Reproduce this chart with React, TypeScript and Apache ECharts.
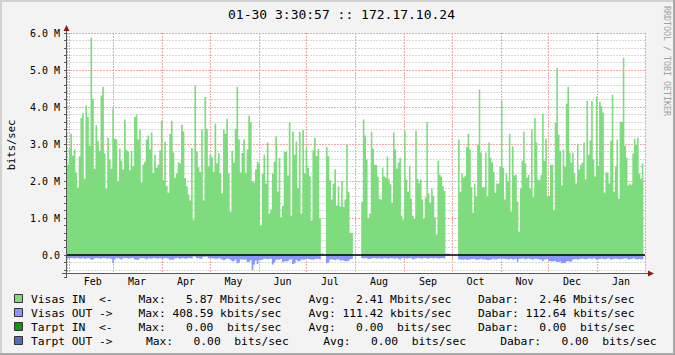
import { useEffect, useRef } from 'react';
import * as echarts from 'echarts';

// ---- data (Mbit/s) ----
const monthNames = ['Jan', 'Feb', 'Mar', 'Apr', 'May', 'Jun', 'Jul', 'Aug', 'Sep', 'Oct', 'Nov', 'Dec'];

// segment boundaries (local time)
const segmentBounds = [
  new Date(2009, 0, 30, 17, 30).getTime(),
  new Date(2009, 4, 4, 0, 0).getTime(),
  new Date(2009, 7, 3, 18, 0).getTime(),
  new Date(2009, 10, 2, 2, 0).getTime(),
  new Date(2010, 0, 30, 3, 30, 57).getTime(),
];

const inFebApr: (number | null)[] = [
  2.44, 2.87, 3.28, 2.68, 2.85, 2.23, 1.82, 2.66, 3.70, 3.84,
  2.06, 4.04, 3.73, 2.95, 5.87, 4.22, 2.33, 3.51, 3.09, 2.82,
  4.31, 4.55, 2.74, 1.80, 3.17, 2.58, 2.33, 3.95, 3.15, 3.12,
  1.99, 2.87, 2.55, 2.31, 3.66, 2.84, 2.79, 2.29, 2.82, 2.40,
  3.73, 3.79, 3.12, 3.39, 1.96, 2.44, 2.52, 3.12, 3.23, 2.85,
  3.31, 2.22, 2.71, 2.36, 2.44, 2.83, 3.63, 2.03, 3.06, 1.87,
  1.68, 3.27, 3.63, 2.77, 2.08, 2.20, 2.51, 2.47, 3.52, 3.34,
  2.08, 1.86, 1.64, 1.47, 2.89, 0.95, 4.58, 2.79, 2.37, 2.24,
  3.40, 1.47, 4.27, 3.41, 2.40, 2.71, 2.64, 2.24,
];
const inMayJul: (number | null)[] = [
  3.55, 2.47, 2.76, 2.20, 1.66, 3.39, 3.28, 3.68, 2.20, 1.17,
  2.82, 2.49, 3.41, 4.55, 3.12, 2.23, 2.76, 3.12, 2.22, 2.85,
  3.77, 3.59, 1.99, 1.95, 2.32, 2.52, 2.46, 0.80, 2.19, 2.71,
  1.93, 3.04, 1.12, 1.23, 2.20, 2.52, 3.20, 1.71, 2.62, 1.02,
  1.33, 2.79, 2.79, 2.15, 3.59, 1.06, 3.33, 2.71, 3.07, 1.81,
  3.33, 1.12, 3.38, 2.20, 2.93, 2.36, 2.13, 0.93, 2.83, 3.17,
  2.67, 2.87, 1.00, 0.04, 0.04, null, 2.92, 2.67, 2.02, 1.50,
  1.93, 2.32, 1.34, 1.86, 1.31, 2.00, 1.30, 1.50, 2.98, 1.70,
  0.60, 0.60, null, null, null, null,
];
const inAugOct: (number | null)[] = [
  null, 1.44, 3.66, 3.23, 2.58, 0.99, 1.12, 3.33, 2.87, 2.44,
  2.44, 2.12, 1.52, 1.49, 2.36, 2.12, 2.09, 2.66, 2.05, 1.91,
  1.41, 3.31, 2.85, 2.33, 2.49, 2.63, 1.06, 0.95, 3.36, 2.04,
  1.71, 2.41, 1.52, 1.06, 0.98, 3.36, 2.06, 1.94, 2.04, 1.50,
  0.98, 1.55, 3.60, 1.66, 1.41, 1.79, 1.59, 1.02, 0.55, 2.55,
  2.17, 2.12, 1.86, 1.73, 0.04, 0.04, 0.04, null, null, null,
  null, null, 3.12, 1.71, 2.20, 2.09, 2.14, 2.92, 3.28, 2.85,
  1.83, 1.15, 1.93, 1.59, 2.98, 4.47, 2.77, 1.83, 1.83, 2.77,
  1.59, 3.04, 2.63, 2.50, 2.24, 1.68, 1.93, 1.93, 2.39, 4.17,
];
const inNovJan: (number | null)[] = [
  2.36, 1.50, 2.20, 1.99, 3.28, 1.17, 2.93, 2.15, 2.17, 1.44,
  0.63, 1.80, 2.55, 3.33, 2.47, 2.09, 2.17, 1.80, 3.39, 1.56,
  3.70, 3.04, 2.04, 2.02, 2.17, 3.82, 2.55, 3.14, 1.59, 1.60,
  2.44, 2.44, 1.20, 3.58, 5.06, 3.25, 2.82, 1.88, 2.85, 2.39,
  4.09, 4.55, 2.77, 2.49, 2.77, 2.20, 1.93, 3.01, 2.31, 2.44,
  2.49, 3.04, 2.04, 4.17, 2.71, 3.10, 4.17, 2.58, 2.12, 4.28,
  2.41, 4.15, 4.02, 3.85, 1.68, 2.23, 2.23, 1.93, 3.09, 4.33,
  1.71, 2.39, 3.12, 1.52, 3.60, 3.60, 5.33, 2.95, 2.63, 1.88,
  1.93, 1.90, 2.74, 3.14, 2.98, 3.17, 2.20, 2.06, 2.47,
];

const outFebApr: (number | null)[] = [
  0.09, 0.10, 0.08, 0.09, 0.10, 0.08, 0.09, 0.10, 0.09, 0.08,
  0.10, 0.09, 0.09, 0.10, 0.13, 0.12, 0.09, 0.08, 0.09, 0.10,
  0.09, 0.08, 0.09, 0.10, 0.09, 0.09, 0.11, 0.22, 0.12, 0.09,
  0.08, 0.10, 0.12, 0.09, 0.08, 0.09, 0.10, 0.09, 0.08, 0.09,
  0.12, 0.13, 0.13, 0.09, 0.08, 0.09, 0.10, 0.12, 0.09, 0.10,
  0.09, 0.08, 0.09, 0.10, 0.09, 0.08, 0.10, 0.09, 0.08, 0.09,
  0.10, 0.13, 0.12, 0.13, 0.09, 0.08, 0.09, 0.11, 0.09, 0.08,
  0.10, 0.09, 0.08, 0.09, 0.10, 0.04, 0.05, 0.09, 0.08, 0.10,
  0.09, 0.05, 0.05, 0.04, 0.09, 0.08, 0.09, 0.10,
];
const outMayJul: (number | null)[] = [
  0.10, 0.11, 0.09, 0.10, 0.12, 0.14, 0.12, 0.10, 0.11, 0.13,
  0.17, 0.16, 0.12, 0.22, 0.20, 0.12, 0.11, 0.13, 0.12, 0.19,
  0.18, 0.14, 0.41, 0.26, 0.15, 0.24, 0.14, 0.13, 0.12, 0.10,
  0.11, 0.12, 0.10, 0.11, 0.26, 0.20, 0.13, 0.12, 0.13, 0.11,
  0.19, 0.17, 0.18, 0.16, 0.12, 0.11, 0.24, 0.22, 0.13, 0.17,
  0.16, 0.12, 0.13, 0.12, 0.10, 0.11, 0.12, 0.13, 0.12, 0.11,
  0.10, 0.11, 0.12, 0.01, 0.01, null, 0.22, 0.20, 0.12, 0.11,
  0.13, 0.14, 0.12, 0.11, 0.15, 0.14, 0.15, 0.17, 0.16, 0.15,
  0.11, 0.10, null, null, null, null,
];
const outAugOct: (number | null)[] = [
  null, 0.09, 0.10, 0.08, 0.09, 0.11, 0.10, 0.09, 0.08, 0.09,
  0.10, 0.09, 0.08, 0.10, 0.09, 0.08, 0.09, 0.10, 0.09, 0.08,
  0.09, 0.10, 0.09, 0.08, 0.10, 0.12, 0.09, 0.08, 0.09, 0.10,
  0.09, 0.08, 0.09, 0.12, 0.10, 0.09, 0.08, 0.09, 0.10, 0.09,
  0.08, 0.09, 0.10, 0.09, 0.08, 0.09, 0.10, 0.08, 0.09, 0.10,
  0.09, 0.08, 0.09, 0.10, 0.01, 0.01, 0.01, null, null, null,
  null, null, 0.12, 0.11, 0.13, 0.12, 0.11, 0.13, 0.12, 0.11,
  0.12, 0.10, 0.11, 0.13, 0.12, 0.11, 0.10, 0.12, 0.11, 0.13,
  0.14, 0.13, 0.12, 0.11, 0.10, 0.12, 0.11, 0.10, 0.09, 0.10,
];
const outNovJan: (number | null)[] = [
  0.10, 0.11, 0.10, 0.12, 0.11, 0.10, 0.12, 0.11, 0.10, 0.19,
  0.11, 0.10, 0.09, 0.10, 0.12, 0.10, 0.09, 0.11, 0.12, 0.12,
  0.10, 0.11, 0.10, 0.12, 0.13, 0.17, 0.12, 0.11, 0.10, 0.16,
  0.17, 0.18, 0.16, 0.17, 0.19, 0.18, 0.17, 0.22, 0.21, 0.22,
  0.17, 0.16, 0.18, 0.17, 0.12, 0.11, 0.10, 0.13, 0.11, 0.10,
  0.09, 0.11, 0.12, 0.10, 0.09, 0.10, 0.11, 0.09, 0.10, 0.12,
  0.11, 0.10, 0.09, 0.11, 0.12, 0.10, 0.09, 0.10, 0.12, 0.11,
  0.10, 0.09, 0.11, 0.10, 0.12, 0.10, 0.11, 0.09, 0.10, 0.12,
  0.11, 0.10, 0.09, 0.10, 0.12, 0.11, 0.10, 0.12, 0.11,
];

const legendRows = [
  { label: 'Visas IN  <-', color: '#7edc7e', max: 'Max:   5.87 Mbits/sec', avg: 'Avg:   2.41 Mbits/sec', cur: 'Dabar:   2.46 Mbits/sec', shift: 0 },
  { label: 'Visas OUT ->', color: '#8a96ff', max: 'Max: 408.59 kbits/sec', avg: 'Avg: 111.42 kbits/sec', cur: 'Dabar: 112.64 kbits/sec', shift: 0 },
  { label: 'Tarpt IN  <-', color: '#0a9a0a', max: 'Max:   0.00  bits/sec', avg: 'Avg:   0.00  bits/sec', cur: 'Dabar:   0.00  bits/sec', shift: 0 },
  { label: 'Tarpt OUT ->', color: '#4f6cc8', max: 'Max:   0.00  bits/sec', avg: 'Avg:   0.00  bits/sec', cur: 'Dabar:   0.00  bits/sec', shift: 1 },
];

const TITLE = '01-30 3:30:57 :: 172.17.10.24';
const Y_UNIT = 'bits/sec';
const WATERMARK = 'RRDTOOL / TOBI OETIKER';

// ---- helpers ----
const MONO = '"DejaVu Sans Mono", monospace';
const DAY = 86400000;

function buildSteps(segs: (number | null)[][], sign: number) {
  const pts: [number, number | null][] = [];
  segs.forEach((vals, s) => {
    const t0 = segmentBounds[s];
    const t1 = segmentBounds[s + 1];
    const step = (t1 - t0) / vals.length;
    vals.forEach((v, i) => {
      const a = t0 + i * step;
      const b = a + step;
      if (v == null) {
        pts.push([a, null]);
        pts.push([b, null]);
      } else {
        pts.push([a, sign * v * 1e6]);
        pts.push([b, sign * v * 1e6]);
      }
    });
  });
  return pts;
}

const X_MIN = new Date(2009, 0, 30, 17, 30).getTime();
const X_MAX = new Date(2010, 0, 31, 3, 50).getTime();
const LABEL_SHIFT = 15 * DAY;

const RED = '#f0a8a8';
const GRAY = '#d9d9d9';
const NONE = 'rgba(0,0,0,0)';
const AXIS = '#5a5a5a';

const GRID_LEFT = 67;
const GRID_TOP = 33;
const GRID_W = 578;
const PX_PER_M = 37;

export default function App() {
  const ref = useRef<HTMLDivElement>(null);

  useEffect(() => {
    document.body.style.margin = '0';
    const chart = echarts.init(ref.current!, null, { renderer: 'svg' });

    const inData = buildSteps([inFebApr, inMayJul, inAugOct, inNovJan], 1);
    const outData = buildSteps([outFebApr, outMayJul, outAugOct, outNovJan], -1);

    const rowY = [299, 313, 327, 341];
    const legendGraphics: any[] = [];
    legendRows.forEach((r, i) => {
      const y = rowY[i];
      const sh = r.shift * 7.4;
      legendGraphics.push({
        type: 'rect', shape: { x: 14.5, y: y - 4.5, width: 8, height: 8 },
        style: { fill: r.color, stroke: '#333', lineWidth: 1 },
      });
      const t = (text: string, x: number) => ({
        type: 'text', x, y,
        style: { text, font: `11.3px ${MONO}`, fill: '#000', textAlign: 'left', textVerticalAlign: 'middle' },
      });
      legendGraphics.push(t(r.label, 31));
      legendGraphics.push(t(r.max, 138.5 + sh));
      legendGraphics.push(t(r.avg, 308.5 + sh * 2));
      legendGraphics.push(t(r.cur, 478 + sh * 3));
    });

    const option: any = {
      animation: false,
      backgroundColor: '#f3f3f3',
      grid: [
        {
          left: GRID_LEFT, top: GRID_TOP, width: GRID_W, height: 6.5 * PX_PER_M,
          show: true, backgroundColor: '#ffffff', borderWidth: 0,
        },
        // helper grid carrying only the y-axis tick marks (every 0.2 M)
        {
          left: GRID_LEFT, top: GRID_TOP, width: GRID_W, height: 6.6 * PX_PER_M,
          show: false,
        },
      ],
      xAxis: [
        {
          type: 'time', gridIndex: 0, min: X_MIN, max: X_MAX, splitNumber: 12,
          minInterval: 28 * DAY, maxInterval: 31 * DAY,
          axisLine: { show: false },
          axisTick: { show: true, length: 3, lineStyle: { color: RED, width: 1 } },
          axisLabel: { show: false },
          splitLine: { show: true, lineStyle: { color: RED, width: 1, type: [2, 1] } },
        },
        {
          type: 'time', gridIndex: 0, min: X_MIN - LABEL_SHIFT, max: X_MAX - LABEL_SHIFT, splitNumber: 12,
          minInterval: 28 * DAY, maxInterval: 31 * DAY, position: 'bottom',
          axisLine: { show: false }, axisTick: { show: false }, splitLine: { show: false },
          axisLabel: {
            show: true, margin: 3, fontSize: 10, fontFamily: MONO, color: '#000',
            formatter: (v: number) => monthNames[new Date(v).getMonth()],
          },
        },
        {
          type: 'value', gridIndex: 1, min: 0, max: 1, show: false,
        },
      ],
      yAxis: [
        {
          type: 'value', gridIndex: 0, min: -500000, max: 6000000, interval: 100000,
          axisLine: { show: false }, axisTick: { show: false },
          axisLabel: {
            show: true, margin: 7, fontSize: 10, fontFamily: MONO, color: '#000',
            formatter: (v: number) => {
              const m = v / 1e6;
              if (m < -1e-9 || Math.abs(m - Math.round(m)) > 1e-6) return '';
              return Math.round(m) === 0 ? '0.0' : Math.round(m).toFixed(1) + ' M';
            },
          },
          splitLine: {
            show: true,
            lineStyle: { color: [NONE, GRAY, NONE, GRAY, NONE, RED, NONE, GRAY, NONE, GRAY], width: 1, type: [2, 1] },
          },
        },
        {
          type: 'value', gridIndex: 1, min: -600000, max: 6000000, interval: 200000,
          axisLine: { show: false },
          axisTick: { show: true, length: 3, lineStyle: { color: AXIS, width: 1 } },
          axisLabel: { show: false }, splitLine: { show: false },
        },
      ],
      series: [
        {
          type: 'line', name: 'Visas IN', xAxisIndex: 0, yAxisIndex: 0, data: inData,
          showSymbol: false, symbol: 'none', connectNulls: false,
          lineStyle: { width: 0 }, areaStyle: { color: '#7edc7e', opacity: 1 },
          itemStyle: { color: '#7edc7e' },
          markLine: {
            silent: true, symbol: 'none', label: { show: false },
            lineStyle: { color: '#000', width: 1.5, type: 'solid' },
            data: [{ yAxis: 0 }],
          },
          z: 2,
        },
        {
          type: 'line', name: 'Visas OUT', xAxisIndex: 0, yAxisIndex: 0, data: outData,
          showSymbol: false, symbol: 'none', connectNulls: false,
          lineStyle: { width: 0 }, areaStyle: { color: '#8a96ff', opacity: 1 },
          itemStyle: { color: '#8a96ff' },
          z: 2,
        },
      ],
      graphic: [
        // frame
        { type: 'rect', shape: { x: 0, y: 0, width: 675, height: 2 }, style: { fill: '#d2d2d2' }, z: 200 },
        { type: 'rect', shape: { x: 0, y: 0, width: 2, height: 355 }, style: { fill: '#d2d2d2' }, z: 200 },
        { type: 'rect', shape: { x: 673, y: 0, width: 2, height: 355 }, style: { fill: '#a8a8a8' }, z: 200 },
        { type: 'rect', shape: { x: 0, y: 353, width: 675, height: 2 }, style: { fill: '#a8a8a8' }, z: 200 },
        // axes
        { type: 'line', shape: { x1: 66.5, y1: 30, x2: 66.5, y2: 277 }, style: { stroke: AXIS, lineWidth: 1 }, z: 100 },
        { type: 'line', shape: { x1: 62, y1: 273.5, x2: 649, y2: 273.5 }, style: { stroke: AXIS, lineWidth: 1 }, z: 100 },
        { type: 'polygon', shape: { points: [[63.5, 31], [69.5, 31], [66.5, 25]] }, style: { fill: '#8b1a1a' }, z: 101 },
        { type: 'polygon', shape: { points: [[648, 270.5], [648, 276.5], [654, 273.5]] }, style: { fill: '#8b1a1a' }, z: 101 },
        // texts
        {
          type: 'text', x: 341.5, y: 14,
          style: { text: TITLE, font: `13px ${MONO}`, fill: '#000', textAlign: 'center', textVerticalAlign: 'middle' },
        },
        {
          type: 'text', x: 11, y: 145, rotation: Math.PI / 2,
          style: { text: Y_UNIT, font: `10.5px ${MONO}`, fill: '#000', textAlign: 'center', textVerticalAlign: 'middle' },
        },
        {
          type: 'text', x: 667, y: 61, rotation: -Math.PI / 2,
          style: { text: WATERMARK, font: `8.3px ${MONO}`, fill: '#a0a0a0', textAlign: 'center', textVerticalAlign: 'middle' },
        },
        ...legendGraphics,
      ],
    };

    chart.setOption(option);
    return () => chart.dispose();
  }, []);

  return <div ref={ref} style={{ width: 675, height: 355 }} />;
}
